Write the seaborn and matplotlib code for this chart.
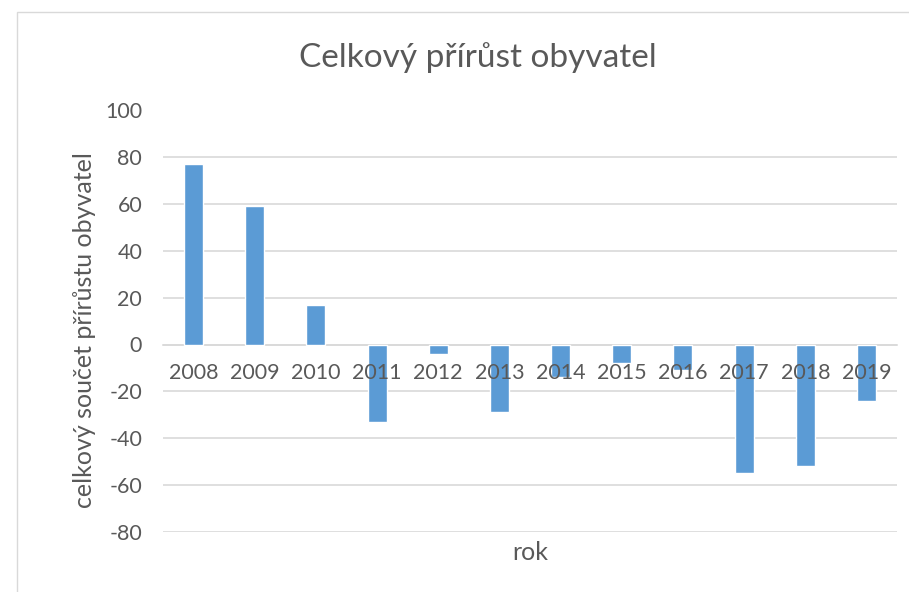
import matplotlib
matplotlib.use("Agg")
import matplotlib.pyplot as plt
import matplotlib.patches as mpatches
import seaborn as sns
import pandas as pd

years = ["2008", "2009", "2010", "2011", "2012", "2013", "2014", "2015", "2016", "2017", "2018", "2019"]
values = [77, 59, 17, -33, -4, -29, -14, -8, -11, -55, -52, -24]
yticks = [-80, -60, -40, -20, 0, 20, 40, 60, 80, 100]

title = "Celkový přírůst obyvatel"
ylabel = "celkový součet přírůstu obyvatel"
xlabel = "rok"

sns.set_theme(style="white")
plt.rcParams["font.family"] = ["Lato", "DejaVu Sans"]

df = pd.DataFrame({"rok": years, "value": values})

fig = plt.figure(figsize=(9.09, 5.92), dpi=100)
ax = fig.add_axes([163 / 909, 1 - 531.7 / 592, (897 - 163) / 909, (531.7 - 110.5) / 592])

sns.barplot(data=df, x="rok", y="value", order=years, color="#5B9BD5",
            saturation=1, width=0.31, ax=ax, zorder=2)

ax.set_ylim(-80, 100)
ax.set_yticks(yticks)
ax.set_yticklabels([str(v) for v in yticks])
ax.grid(axis="y", color="#d9d9d9", linewidth=1.2)
ax.grid(axis="x", visible=False)
for s in ["top", "right", "left"]:
    ax.spines[s].set_visible(False)
ax.spines["bottom"].set_position(("data", 0))
ax.spines["bottom"].set_color("#d9d9d9")
ax.spines["bottom"].set_linewidth(1.2)
ax.spines["bottom"].set_zorder(1)
ax.tick_params(axis="x", length=0, pad=13, labelsize=15.5, labelcolor="#595959")
ax.tick_params(axis="y", length=0, pad=15, labelsize=15.5, labelcolor="#595959")
ax.set_xlabel("")
ax.set_ylabel("")
ax.set_xlim(-0.5, len(years) - 0.5)
ax.yaxis.set_zorder(0.5)
ax.xaxis.set_zorder(5)

fig.text(478 / 909, 1 - 58 / 592, title, ha="center", va="center", fontsize=24, color="#595959")
fig.text(85 / 909, 1 - 330 / 592, ylabel, ha="center", va="center", rotation=90, fontsize=18, color="#595959")
fig.text(530 / 909, 1 - 552 / 592, xlabel, ha="center", va="center", fontsize=18, color="#595959")

fig.patches.append(mpatches.Rectangle((17 / 909, -0.1), 2, 1 - 12 / 592 + 0.1, transform=fig.transFigure,
                                      fill=False, edgecolor="#d9d9d9", linewidth=1, figure=fig))

fig.savefig("out.png", dpi=100, facecolor="white")
